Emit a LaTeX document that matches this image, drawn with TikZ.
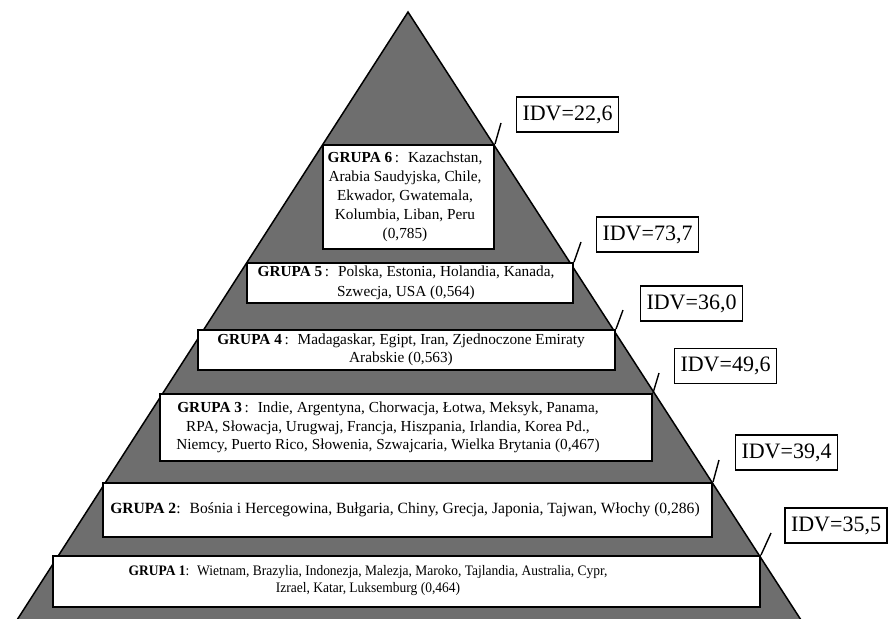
\documentclass[tikz,border=0pt]{standalone}
\usepackage{fontspec}
\setmainfont{Liberation Serif}
\newfontfamily\narrowserif[FakeStretch=0.93]{Liberation Serif}
\definecolor{pyr}{RGB}{110,110,110}
\begin{document}
\begin{tikzpicture}[x=1pt,y=-1pt,
 grp/.style={draw=black, line width=2pt, fill=white, inner sep=0pt, anchor=center},
 txt/.style={align=center, font=\fontsize{15.3}{18.5}\selectfont, inner sep=0pt, anchor=center},
 idv/.style={draw=black, line width=1.4pt, fill=white, inner sep=0pt, minimum width=102pt, minimum height=35pt, font=\fontsize{22}{26}\selectfont},
 tickline/.style={line width=1.4pt}]
\useasboundingbox (0,0) rectangle (888,618);
% pyramid
\coordinate (apex) at (408,12);
\coordinate (bl) at (17,620);
\coordinate (br) at (801,620);
\fill[pyr] (bl) -- (apex) -- (br) -- cycle;
\draw[line width=1.5pt, line join=miter] (bl) -- (apex) -- (br);
% group boxes
\node[grp, minimum width=171pt, minimum height=104pt] (g6) at (408.5,197) {};
\node[grp, minimum width=326pt, minimum height=40pt] (g5) at (410,283) {};
\node[grp, minimum width=417pt, minimum height=40pt] (g4) at (406.5,350) {};
\node[grp, minimum width=492pt, minimum height=67pt] (g3) at (406,427.5) {};
\node[grp, minimum width=609pt, minimum height=54pt] (g2) at (407.5,510) {};
\node[grp, minimum width=707pt, minimum height=51pt] (g1) at (406.5,581.5) {};
% texts
\node[txt, font=\fontsize{15.3}{19}\selectfont] (t6) at (405,197) {\textbf{GRUPA 6}\,:~ Kazachstan,\\Arabia Saudyjska, Chile,\\Ekwador, Gwatemala,\\Kolumbia, Liban, Peru\\(0,785)};
\node[txt, font=\fontsize{15.3}{19.5}\selectfont] (t5) at (406,283) {\textbf{GRUPA 5}\,:~ Polska, Estonia, Holandia, Kanada,\\Szwecja, USA (0,564)};
\node[txt] (t4) at (401,350) {\textbf{GRUPA 4}\,:~ Madagaskar, Egipt, Iran, Zjednoczone Emiraty\\Arabskie (0,563)};
\node[txt] (t3) at (388,427.5) {\textbf{GRUPA 3}\,:~ Indie, Argentyna, Chorwacja, Łotwa, Meksyk, Panama,\\RPA, Słowacja, Urugwaj, Francja, Hiszpania, Irlandia, Korea Pd.,\\Niemcy, Puerto Rico, Słowenia, Szwajcaria, Wielka Brytania (0,467)};
\node[txt, font=\fontsize{15.6}{18.5}\selectfont] (t2) at (405,510) {\textbf{GRUPA 2}:~ Bośnia i Hercegowina, Bułgaria, Chiny, Grecja, Japonia, Tajwan, Włochy (0,286)};
\node[txt, font=\narrowserif\fontsize{14.5}{17}\selectfont] (t1) at (368,580.5) {\textbf{GRUPA 1}:~ Wietnam, Brazylia, Indonezja, Malezja, Maroko, Tajlandia, Australia, Cypr,\\Izrael, Katar, Luksemburg (0,464)};
% IDV boxes
\node[idv] (i6) at (567.5,114.5) {IDV=22,6};
\node[idv] (i5) at (647.5,234.5) {IDV=73,7};
\node[idv] (i4) at (691.5,303.5) {IDV=36,0};
\node[idv] (i3) at (725.5,366) {IDV=49,6};
\node[idv] (i2) at (786.5,452.5) {IDV=39,4};
\node[idv] (i1) at (836,525.5) {IDV=35,5};
% ticks
\coordinate (c6) at (501,123);
\coordinate (c5) at (581,242);
\coordinate (c4) at (623,310);
\coordinate (c3) at (659,373);
\coordinate (c2) at (719,460);
\coordinate (c1) at (771,533);
\draw[tickline] (g6.north east) -- (c6);
\draw[tickline] (g5.north east) -- (c5);
\draw[tickline] (g4.north east) -- (c4);
\draw[tickline] (g3.north east) -- (c3);
\draw[tickline] (g2.north east) -- (c2);
\draw[tickline] (g1.north east) -- (c1);
\end{tikzpicture}
\end{document}
